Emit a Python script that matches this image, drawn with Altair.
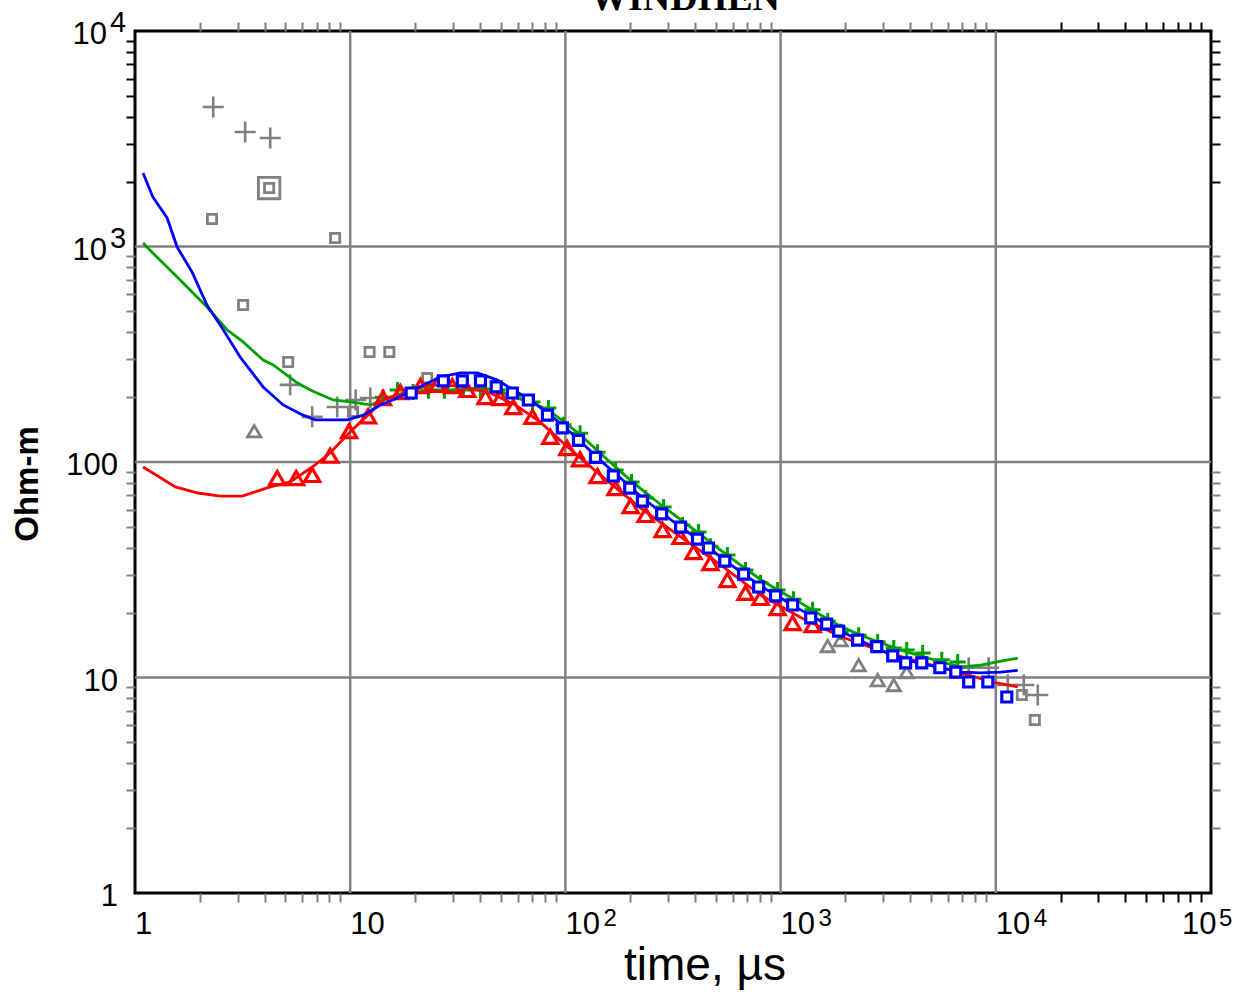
import altair as alt
import pandas as pd

# ---------------- data ----------------
red_line_t = [1.09, 1.54, 1.96, 2.49, 3.15, 4.25, 5.26, 6.66, 8.07, 10.0, 12.4, 14.2, 17.6, 23.6, 32.5,
              44.8, 58.5, 76.5, 100, 145, 223, 343, 526, 807, 1240, 1900, 2920, 4480, 6870, 9800, 12650]
red_line_r = [94.8, 76.6, 71.8, 69.5, 69.5, 76.6, 80.8, 94.8, 110, 138, 169, 194, 209, 228, 225,
              209, 184, 153, 120, 87.1, 61.2, 44.9, 33.3, 24.1, 19.0, 15.5, 13.3, 11.8, 10.5, 9.5, 9.04]

red_pts_t = [4.58, 5.61, 6.66, 8.07, 9.89, 12.1, 14.2, 17.1, 21.2, 25.4, 29.8, 35.0, 42.5, 49.9, 57.3,
             70.3, 85.1, 102, 117, 141, 171, 201, 236, 283, 343, 394, 472, 566, 687, 807, 968, 1137, 1409]
red_pts_r = [84.3, 84.3, 87.1, 107, 139, 163, 198, 211, 225, 228, 225, 216, 200, 198, 180,
             162, 131, 116, 103, 86.1, 75.7, 62.5, 56.8, 48.3, 44.9, 38.2, 34.0, 28.3, 24.7, 23.4, 21.0, 17.9, 17.5]

blue_line_t = [1.09, 1.21, 1.41, 1.57, 1.84, 2.16, 2.54, 3.08, 3.43, 3.94, 4.88, 6.04, 6.87, 9.69, 11.5,
               13.8, 16.6, 19.6, 26.2, 32.5, 39.0, 48.3, 57.3, 68.7, 82.5, 97.9, 117, 145, 180, 223,
               277, 343, 425, 526, 652, 807, 1000, 1240, 1535, 1900, 2355, 2920, 3610, 4480, 5550,
               6870, 8510, 10550, 12650]
blue_line_r = [2193, 1698, 1356, 994, 762, 535, 419, 307, 267, 223, 184, 165, 157, 157, 165,
               184, 198, 216, 248, 259, 259, 240, 216, 194, 169, 147, 125, 102, 84.3, 69.5,
               58.6, 49.9, 43.0, 36.2, 30.9, 26.6, 23.4, 20.6, 18.3, 16.4, 14.8, 13.4, 12.3, 11.6, 11.1,
               10.6, 10.5, 10.6, 10.8]

blue_pts_t = [19.2, 27.1, 33.2, 40.3, 47.7, 56.7, 67.3, 82.5, 96.8, 115, 138, 167, 199, 228, 280,
              343, 411, 462, 550, 673, 791, 948, 1137, 1380, 1637, 1862, 2280, 2797, 3319, 3811,
              4529, 5495, 6516, 7482, 9184, 11250]
blue_pts_r = [209, 238, 238, 238, 223, 209, 194, 165, 144, 126, 105, 86.1, 75.7, 65.9, 57.4,
              49.9, 43.9, 39.9, 34.7, 30.2, 26.3, 23.9, 21.7, 18.9, 17.7, 16.4, 14.9, 13.9, 12.6, 11.7,
              11.7, 11.1, 10.6, 9.53, 9.53, 8.12]

green_line_t = [1.09, 1.21, 1.57, 2.16, 2.68, 3.18, 3.94, 4.39, 5.67, 6.52, 8.33, 10.0, 12.4, 15.4, 19.0,
                23.6, 29.2, 40.3, 48.3, 57.3, 68.7, 83.4, 100, 117, 145, 180, 223, 277, 343, 425,
                526, 652, 807, 1000, 1240, 1535, 1900, 2355, 2920, 3610, 4480, 5550, 6870, 8510, 10550, 12650]
green_line_r = [1038, 933, 721, 524, 410, 361, 297, 282, 233, 216, 194, 190, 184, 200, 209,
                216, 216, 220, 216, 200, 190, 174, 152, 134, 110, 90.5, 75.5, 63.5, 54.0, 46.0,
                39.0, 33.2, 28.5, 25.0, 22.2, 19.5, 17.3, 15.7, 14.5, 13.4, 12.6, 11.8, 11.2, 11.4, 11.9, 12.3]

green_pts_t = [14.2, 16.6, 19.6, 23.1, 27.4, 33.6, 40.3, 48.3, 57.3, 70.3, 83.4, 97.9, 117, 141, 171,
               203, 236, 286, 350, 416, 472, 566, 687, 807, 968, 1148, 1409, 1656, 1901, 2306,
               2825, 3357, 3855, 4571, 5610, 6653]
green_pts_r = [200, 216, 211, 214, 214, 216, 216, 216, 202, 190, 178, 149, 136, 111, 91.8,
               80.8, 68.1, 61.8, 51.0, 47.3, 40.7, 37.0, 31.5, 27.5, 25.5, 23.1, 20.6, 18.3, 16.3, 15.7,
               14.6, 13.7, 13.4, 13.0, 12.1, 11.8]

gray_plus_t = [2.31, 3.25, 4.25, 5.26, 6.66, 8.70, 10.6, 12.4, 7482, 9268, 11370, 13490, 15670]
gray_plus_r = [4436, 3398, 3187, 228, 162, 180, 194, 198, 11.1, 11.1, 9.23, 9.23, 8.29]

gray_sq_t = [2.28, 3.18, 5.15, 8.51, 10.3, 12.3, 15.2, 22.8, 13210, 15180]
gray_sq_r = [1342, 535, 291, 1095, 171, 324, 324, 245, 8.29, 6.35]

gray_dsq_t = [4.20]
gray_dsq_r = [1868]

gray_tri_t = [3.58, 1656, 1901, 2306, 2825, 3357, 3855]
gray_tri_r = [139, 14.0, 14.9, 11.4, 9.73, 9.23, 10.6]

x_decades = [10, 100, 1000, 10000]
y_decades = [10, 100, 1000]
x_minor = [2, 3, 4, 5, 6, 7, 8, 9,
           20, 30, 40, 50, 60, 70, 80, 90,
           200, 300, 400, 500, 600, 700, 800, 900,
           2000, 3000, 4000, 5000, 6000, 7000, 8000, 9000,
           20000, 30000, 40000, 50000, 60000, 70000, 80000, 90000]
y_minor = [2, 3, 4, 5, 6, 7, 8, 9,
           20, 30, 40, 50, 60, 70, 80, 90,
           200, 300, 400, 500, 600, 700, 800, 900,
           2000, 3000, 4000, 5000, 6000, 7000, 8000, 9000]

x_plain_vals = [1, 10]
x_plain_text = ["1", "10"]
x_exp_vals = [100, 1000, 10000]
x_exp_sup = ["2", "3", "4"]
x_last_vals = [100000]
x_last_sup = ["5"]
y_plain_vals = [1, 10, 100]
y_plain_text = ["1", "10", "100"]
y_exp_vals = [1000, 10000]
y_exp_sup = ["3", "4"]

# ---------------- styling ----------------
W, H = 1076, 862
GRID = "#808080"
GRAY = "#808080"
RED = "#ff0000"
BLUE = "#0000ff"
GREEN = "#00a000"
FONT = "Liberation Sans Narrow, Arial Narrow, Liberation Sans, Arial"
PLUS = "M-1,0H1M0,-1V1"

xs = alt.Scale(type="log", domain=[1, 100000], nice=False)
ys = alt.Scale(type="log", domain=[1, 10000], nice=False)


def df(t, r):
    return pd.DataFrame({"t": t, "r": r})


def X(axis=None):
    return alt.X("t:Q", scale=xs, axis=axis)


def Y(axis=None):
    return alt.Y("r:Q", scale=ys, axis=axis)


def tick_axis(orient, values, test):
    return alt.Axis(orient=orient, values=values, labels=False, domain=False, grid=False,
                    ticks=True, tickSize=9, tickWidth=2, title=None,
                    tickColor={"condition": {"test": test, "value": "#000000"}, "value": GRAY})


# axis holder / grid layers
grid_x = alt.Chart(pd.DataFrame({"t": x_decades})).mark_rule(color=GRID, strokeWidth=2.5).encode(
    x=X(tick_axis("bottom", x_minor, "datum.value >= 10000")))
grid_y = alt.Chart(pd.DataFrame({"r": y_decades})).mark_rule(color=GRID, strokeWidth=2.5).encode(
    y=Y(tick_axis("left", y_minor, "datum.value >= 1000")))
top_ax = alt.Chart(pd.DataFrame({"t": x_decades})).mark_rule(opacity=0).encode(
    x=X(tick_axis("top", x_minor, "datum.value >= 10000")))
right_ax = alt.Chart(pd.DataFrame({"r": y_decades})).mark_rule(opacity=0).encode(
    y=Y(tick_axis("right", y_minor, "datum.value >= 1000")))

# gray (masked) data
g_plus = alt.Chart(df(gray_plus_t, gray_plus_r)).mark_point(
    shape=PLUS, filled=False, size=441, strokeWidth=2.6, color=GRAY, opacity=1).encode(x=X(), y=Y())
g_sq = alt.Chart(df(gray_sq_t, gray_sq_r)).mark_point(
    shape="square", filled=False, size=85, strokeWidth=2.8, color=GRAY, opacity=1).encode(x=X(), y=Y())
g_dsq_out = alt.Chart(df(gray_dsq_t, gray_dsq_r)).mark_point(
    shape="square", filled=False, size=460, strokeWidth=2.8, color=GRAY, opacity=1).encode(x=X(), y=Y())
g_dsq_in = alt.Chart(df(gray_dsq_t, gray_dsq_r)).mark_point(
    shape="square", filled=False, size=85, strokeWidth=2.8, color=GRAY, opacity=1).encode(x=X(), y=Y())
g_tri = alt.Chart(df(gray_tri_t, gray_tri_r)).mark_point(
    shape="triangle-up", filled=False, size=175, strokeWidth=2.8, color=GRAY, opacity=1).encode(x=X(), y=Y())

# series
green_l = alt.Chart(df(green_line_t, green_line_r)).mark_line(color=GREEN, strokeWidth=2.8).encode(x=X(), y=Y())
green_p = alt.Chart(df(green_pts_t, green_pts_r)).mark_point(
    shape=PLUS, filled=False, size=256, strokeWidth=3, color=GREEN, opacity=1).encode(x=X(), y=Y())
red_l = alt.Chart(df(red_line_t, red_line_r)).mark_line(color=RED, strokeWidth=2.8).encode(x=X(), y=Y())
red_p = alt.Chart(df(red_pts_t, red_pts_r)).mark_point(
    shape="triangle-up", filled=False, size=230, strokeWidth=3.2, color=RED, opacity=1).encode(x=X(), y=Y())
blue_l = alt.Chart(df(blue_line_t, blue_line_r)).mark_line(color=BLUE, strokeWidth=2.8).encode(x=X(), y=Y())
blue_p = alt.Chart(df(blue_pts_t, blue_pts_r)).mark_point(
    shape="square", filled=True, fill="white", stroke=BLUE, size=100, strokeWidth=3.2, opacity=1).encode(x=X(), y=Y())

# tick labels
xl_plain = alt.Chart(pd.DataFrame({"t": x_plain_vals, "lab": x_plain_text})).mark_text(
    font=FONT, fontSize=31, align="left", baseline="middle", dx=0, color="black").encode(
    x=X(), y=alt.value(H + 32), text="lab:N")
xl_exp_b = alt.Chart(pd.DataFrame({"t": x_exp_vals, "sup": x_exp_sup})).mark_text(
    font=FONT, fontSize=31, align="left", baseline="middle", dx=0, color="black", text="10").encode(
    x=X(), y=alt.value(H + 32))
xl_exp_s = alt.Chart(pd.DataFrame({"t": x_exp_vals, "sup": x_exp_sup})).mark_text(
    font=FONT, fontSize=24, align="left", baseline="middle", dx=38, color="black").encode(
    x=X(), y=alt.value(H + 26), text="sup:N")
xl_last_b = alt.Chart(pd.DataFrame({"t": x_last_vals, "sup": x_last_sup})).mark_text(
    font=FONT, fontSize=31, align="left", baseline="middle", dx=-29, color="black", text="10").encode(
    x=X(), y=alt.value(H + 32))
xl_last_s = alt.Chart(pd.DataFrame({"t": x_last_vals, "sup": x_last_sup})).mark_text(
    font=FONT, fontSize=24, align="left", baseline="middle", dx=8, color="black").encode(
    x=X(), y=alt.value(H + 26), text="sup:N")

yl_plain = alt.Chart(pd.DataFrame({"r": y_plain_vals, "lab": y_plain_text})).mark_text(
    font=FONT, fontSize=31, align="right", baseline="middle", dy=4, color="black").encode(
    y=Y(), x=alt.value(-17), text="lab:N")
yl_exp_b = alt.Chart(pd.DataFrame({"r": y_exp_vals, "sup": y_exp_sup})).mark_text(
    font=FONT, fontSize=31, align="right", baseline="middle", dy=4, color="black", text="10").encode(
    y=Y(), x=alt.value(-28))
yl_exp_s = alt.Chart(pd.DataFrame({"r": y_exp_vals, "sup": y_exp_sup})).mark_text(
    font=FONT, fontSize=29, align="left", baseline="middle", dy=-8, color="black").encode(
    y=Y(), x=alt.value(-25), text="sup:N")

one = pd.DataFrame({"k": [0]})
x_title = alt.Chart(one).mark_text(
    font="Liberation Sans, Arial", fontSize=46, align="center", baseline="alphabetic",
    color="black", text="time, µs").encode(x=alt.value(570), y=alt.value(949))
y_title = alt.Chart(one).mark_text(
    font="Liberation Sans, Arial", fontSize=33, fontWeight="bold", align="center", baseline="middle",
    angle=270, color="black", text="Ohm-m").encode(x=alt.value(-107), y=alt.value(453))
top_title = alt.Chart(one).mark_text(
    font="Liberation Serif, Times New Roman", fontSize=38, fontWeight="bold", align="center",
    baseline="alphabetic", color="black", text="WINDHEN").encode(x=alt.value(550), y=alt.value(-21))

chart = alt.layer(
    grid_x, grid_y, top_ax, right_ax,
    g_plus, g_sq, g_dsq_out, g_dsq_in, g_tri,
    green_l, green_p, red_l, red_p, blue_l, blue_p,
    xl_plain, xl_exp_b, xl_exp_s, xl_last_b, xl_last_s,
    yl_plain, yl_exp_b, yl_exp_s,
    x_title, y_title, top_title,
).resolve_axis(x="independent", y="independent").properties(
    width=W, height=H,
    autosize=alt.AutoSizeParams(type="none"),
    padding={"left": 135, "top": 31, "right": 37, "bottom": 101},
    background="white",
).configure_view(stroke="black", strokeWidth=3)

chart.save("out.html", embed_options={"renderer": "svg", "actions": False})
